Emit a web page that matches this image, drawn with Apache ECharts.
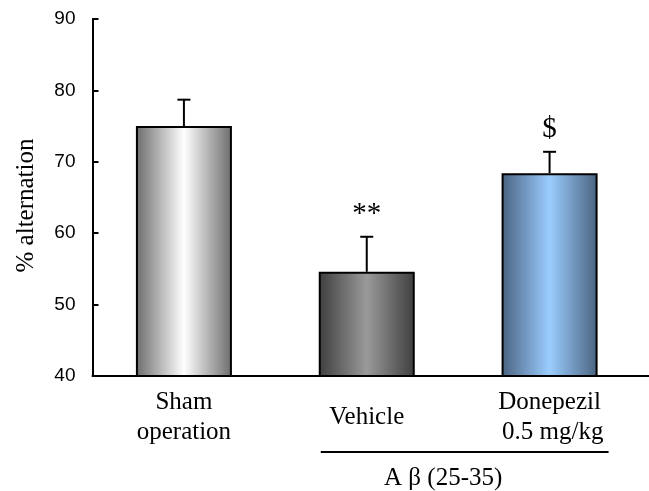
<!DOCTYPE html>
<html>
<head>
<meta charset="utf-8">
<script src="https://cdn.jsdelivr.net/npm/echarts@6/dist/echarts.min.js"></script>
<style>
  html, body { margin: 0; padding: 0; background: #fff; }
  #chart { width: 649px; height: 491px; }
</style>
</head>
<body>
<div id="chart"></div>
<script>
// Spontaneous alternation (%), mean ± SEM per group
const categories = ['Sham\noperation', 'Vehicle', 'Donepezil\n 0.5 mg/kg'];
const meanValues = [75.0, 54.6, 68.4];
const semValues = [3.7, 4.9, 3.0];
const significance = ['', '**', '$'];
const yTicks = { min: 40, max: 90, interval: 10 };
const groupLabel = 'A β (25-35)';

const SERIF = '"Liberation Serif", "Times New Roman", serif';
const SANS = '"Liberation Sans", Arial, sans-serif';

// Horizontal shading for each bar: dark edges, light centre
function shade(edge, centre) {
  return {
    type: 'linear', x: 0, y: 0, x2: 1, y2: 0,
    colorStops: [
      { offset: 0, color: edge },
      { offset: 0.5, color: centre },
      { offset: 1, color: edge }
    ]
  };
}
const barFills = [
  shade('#6c6c6c', '#ffffff'),
  shade('#3e3e3e', '#9a9a9a'),
  shade('#4a6380', '#9acdff')
];

const chart = echarts.init(document.getElementById('chart'), null, { renderer: 'canvas' });

const option = {
  animation: false,
  backgroundColor: '#ffffff',
  grid: { left: 92.5, right: 8, top: 19, bottom: 115, containLabel: false },
  xAxis: {
    type: 'category',
    data: categories,
    axisLine: { show: true, lineStyle: { color: '#000', width: 2 } },
    axisTick: { show: false },
    axisLabel: {
      color: '#000',
      fontFamily: SERIF,
      fontSize: 25,
      lineHeight: 30,
      margin: 41,
      verticalAlign: 'middle',
      interval: 0
    }
  },
  yAxis: {
    type: 'value',
    min: yTicks.min,
    max: yTicks.max,
    interval: yTicks.interval,
    name: '% alternation',
    nameLocation: 'middle',
    nameGap: 54,
    nameTextStyle: { color: '#000', fontFamily: SERIF, fontSize: 25, padding: [0, 0, 0, -16] },
    axisLine: { show: true, lineStyle: { color: '#000', width: 2 } },
    axisTick: { show: true, inside: true, length: 6, lineStyle: { color: '#000', width: 2 } },
    axisLabel: { color: '#000', fontFamily: SANS, fontSize: 19, margin: 17 },
    splitLine: { show: false }
  },
  series: [
    {
      type: 'bar',
      barWidth: 96,
      data: meanValues.map((v, i) => ({
        value: v,
        itemStyle: { color: barFills[i], borderColor: '#000', borderWidth: 2 }
      })),
      z: 2
    },
    {
      // upper error whisker with cap, plus significance mark above it
      type: 'custom',
      z: 3,
      data: meanValues.map((v, i) => [i, v, v + semValues[i]]),
      renderItem: function (params, api) {
        const i = api.value(0);
        const base = api.coord([i, api.value(1)]);
        const top = api.coord([i, api.value(2)]);
        const capHalf = 6.5;
        const children = [
          {
            type: 'line',
            shape: { x1: base[0], y1: base[1], x2: top[0], y2: top[1] },
            style: { stroke: '#000', lineWidth: 2 }
          },
          {
            type: 'line',
            shape: { x1: top[0] - capHalf, y1: top[1], x2: top[0] + capHalf, y2: top[1] },
            style: { stroke: '#000', lineWidth: 2 }
          }
        ];
        const mark = significance[params.dataIndex];
        if (mark) {
          children.push({
            type: 'text',
            x: top[0],
            y: top[1] - 22,
            style: {
              text: mark,
              fill: '#000',
              font: '29px ' + SERIF,
              align: 'center',
              verticalAlign: 'middle'
            }
          });
        }
        return { type: 'group', children: children };
      }
    }
  ]
};
chart.setOption(option);

// Grouping bracket under the two Aβ-treated groups, and the x axis line run-out
function drawAnnotations() {
  const baseY = chart.convertToPixel({ yAxisIndex: 0 }, yTicks.min);
  const veh = chart.convertToPixel({ xAxisIndex: 0 }, 1);
  const don = chart.convertToPixel({ xAxisIndex: 0 }, 2);
  const gridRight = chart.getWidth() - option.grid.right;
  chart.setOption({
    graphic: [
      {
        type: 'line',
        shape: { x1: gridRight, y1: baseY, x2: chart.getWidth(), y2: baseY },
        style: { stroke: '#000', lineWidth: 2 }
      },
      {
        type: 'line',
        shape: { x1: veh - 46, y1: baseY + 76, x2: don + 59, y2: baseY + 76 },
        style: { stroke: '#000', lineWidth: 2 }
      },
      {
        type: 'text',
        x: (veh + don) / 2 - 15,
        y: baseY + 102,
        style: {
          text: groupLabel,
          fill: '#000',
          font: '25px ' + SERIF,
          align: 'center',
          verticalAlign: 'middle'
        }
      }
    ]
  });
}
drawAnnotations();
</script>
</body>
</html>
